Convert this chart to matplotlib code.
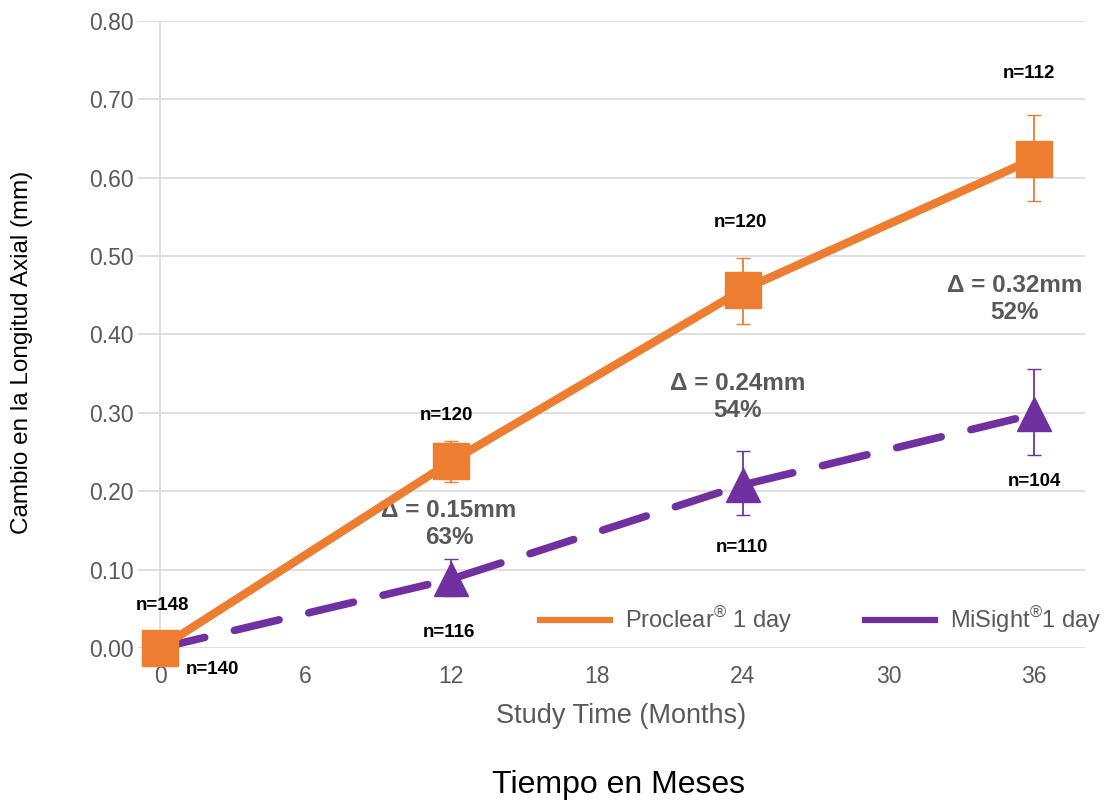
import matplotlib.pyplot as plt

plt.rcParams['font.family'] = ['Liberation Sans', 'DejaVu Sans']
plt.rcParams['mathtext.fontset'] = 'custom'
plt.rcParams['mathtext.rm'] = 'Liberation Sans'
plt.rcParams['mathtext.it'] = 'Liberation Sans'

# data
months = [0, 12, 24, 36]
proclear = [0.0, 0.238, 0.457, 0.624]
proclear_lo = [0.0, 0.212, 0.413, 0.570]
proclear_hi = [0.0, 0.264, 0.497, 0.680]
misight = [0.0, 0.088, 0.208, 0.298]
misight_lo = [0.0, 0.066, 0.170, 0.246]
misight_hi = [0.0, 0.114, 0.251, 0.356]

proclear_n = ["n=148", "n=120", "n=120", "n=112"]
proclear_n_x = [0.1, 11.8, 23.9, 35.8]
proclear_n_y = [0.054, 0.296, 0.543, 0.733]
misight_n = ["n=140", "n=116", "n=110", "n=104"]
misight_n_x = [2.15, 11.9, 23.95, 36.0]
misight_n_y = [-0.027, 0.020, 0.128, 0.212]

delta_text = ["\u0394 = 0.15mm\n63%", "\u0394 = 0.24mm\n54%", "\u0394 = 0.32mm\n52%"]
delta_x = [11.9, 23.8, 35.2]
delta_y = [0.158, 0.32, 0.445]

orange = "#ED7D31"
purple = "#7030A0"
gray = "#595959"

fig = plt.figure(figsize=(11.06, 8), dpi=100)
ax = fig.add_axes([0.125, 0.19, 0.856, 0.784])

ax.set_xlim(-0.9, 38.1)
ax.set_ylim(0, 0.8)
ax.set_yticks([i / 10 for i in range(9)])
ax.set_yticklabels(["%.2f" % (i / 10) for i in range(9)])
ax.set_xticks(range(0, 37, 6))
ax.grid(axis="y", color="#D9D9D9", linewidth=1.2)
ax.set_axisbelow(True)
for s in ax.spines.values():
    s.set_visible(False)
ax.axvline(0, color="#D9D9D9", linewidth=1.2, zorder=0)
ax.tick_params(length=0, labelsize=16.5, labelcolor=gray, pad=3)
ax.tick_params(axis="x", pad=12)

err_p = [[p - l for p, l in zip(proclear, proclear_lo)], [h - p for p, h in zip(proclear, proclear_hi)]]
err_m = [[p - l for p, l in zip(misight, misight_lo)], [h - p for p, h in zip(misight, misight_hi)]]

ax.errorbar(months[1:], proclear[1:], yerr=[e[1:] for e in err_p], fmt="none",
            ecolor=orange, elinewidth=1.3, capsize=5, zorder=3)
ax.errorbar(months[1:], misight[1:], yerr=[e[1:] for e in err_m], fmt="none",
            ecolor=purple, elinewidth=1.3, capsize=5, zorder=3)

ax.plot(months, misight, color=purple, linewidth=5.5, linestyle=(0, (6, 4)),
        dash_capstyle="round", marker="^", markersize=25, clip_on=False,
        zorder=4, label="MiSight$^{\u00ae}$1 day")
ax.plot(months, proclear, color=orange, linewidth=6, marker="s", markersize=26,
        clip_on=False, zorder=5, label="Proclear$^{\u00ae}$ 1 day")

for i in range(4):
    ax.text(proclear_n_x[i], proclear_n_y[i], proclear_n[i], ha="center", va="center",
            fontsize=13.5, fontweight="bold", color="black", clip_on=False)
    ax.text(misight_n_x[i], misight_n_y[i], misight_n[i], ha="center",
            va="center", fontsize=13.5, fontweight="bold", color="black", clip_on=False)

for t, x, y in zip(delta_text, delta_x, delta_y):
    ax.text(x, y, t, ha="center", va="center", fontsize=17.5, fontweight="bold",
            color=gray, linespacing=1.25)

h, l = ax.get_legend_handles_labels()
leg = ax.legend(h[::-1], l[::-1], loc="center left", bbox_to_anchor=(0.4245, 0.044),
                ncol=2, frameon=False, fontsize=17, handlelength=2.95,
                handletextpad=0.64, columnspacing=3.1, borderpad=0,
                borderaxespad=0, labelcolor=gray)
for ln in leg.get_lines():
    ln.set_linestyle("-")
    ln.set_marker("")
    ln.set_linewidth(4.5)

ax.set_xlabel("Study Time (Months)", fontsize=19.5, color=gray)
ax.xaxis.set_label_coords((621 - 138) / 947, -0.088)
fig.text(22 / 1106, 1 - 352 / 800, "Cambio en la Longitud Axial (mm)", rotation=90,
         ha="center", va="center", fontsize=17.5, color="black")
fig.text(0.559, 1 - 785 / 800, "Tiempo en Meses", ha="center", va="center",
         fontsize=23, color="black")

fig.savefig("out.png", dpi=100)
